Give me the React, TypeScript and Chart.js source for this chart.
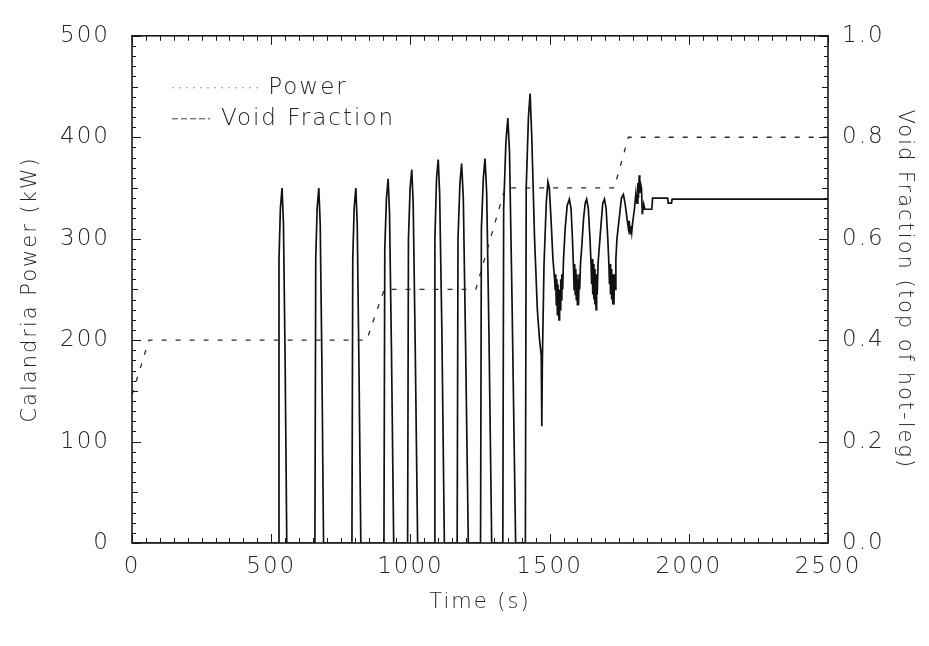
import React, { useEffect, useRef } from 'react';
import { Chart, registerables } from 'chart.js';

Chart.register(...registerables);

// ---- Data ----
const seriesNames = ['Power', 'Void Fraction'];

// Calandria power (kW) vs time (s)
const powerTime = [0, 61, 843, 906, 1235, 1340, 1732, 1783, 2500];
const powerKW = [146, 200, 200, 250, 250, 350, 350, 400, 400];

// Void fraction (top of hot-leg) vs time (s)
const voidTime = [
  0, 525, 528, 533, 539, 544, 550, 556,
  657, 660, 665, 671, 676, 682, 688,
  790, 793, 798, 804, 809, 815, 822,
  905, 908, 914, 920, 925, 932, 940,
  990, 993, 999, 1005, 1010, 1017, 1026,
  1085, 1088, 1094, 1100, 1105, 1113, 1122,
  1168, 1171, 1178, 1184, 1190, 1198, 1208,
  1252, 1255, 1262, 1268, 1274, 1282, 1292,
  1332, 1335, 1343, 1350, 1356, 1365, 1378,
  1413, 1416, 1424, 1430, 1436, 1446, 1456, 1464, 1470, 1472, 1474, 1480, 1488, 1494, 1499, 1505, 1512, 1518,
  1520, 1522, 1524, 1526, 1528, 1530, 1532, 1534, 1536, 1538, 1540, 1542, 1544, 1547, 1550,
  1556, 1563, 1571, 1577,
  1582, 1586, 1588, 1590, 1592, 1594, 1596, 1598, 1600, 1602, 1604, 1606, 1608, 1611, 1615,
  1622, 1628, 1633, 1639,
  1645, 1649, 1651, 1653, 1655, 1657, 1659, 1661, 1663, 1665, 1667, 1669, 1671, 1674, 1678,
  1685, 1691, 1697, 1703,
  1709, 1713, 1715, 1717, 1719, 1721, 1723, 1725, 1727, 1729, 1731, 1733, 1735, 1738, 1742,
  1750, 1758, 1765, 1771,
  1778, 1783, 1786, 1789, 1792, 1795, 1798,
  1805, 1810, 1814, 1817, 1819, 1822, 1824, 1826, 1830,
  1833, 1838, 1842, 1867, 1870, 1924, 1926, 1938, 1940, 2500,
];
const voidFrac = [
  0, 0, 0.56, 0.66, 0.70, 0.63, 0.36, 0,
  0, 0.56, 0.66, 0.70, 0.63, 0.36, 0,
  0, 0.56, 0.66, 0.70, 0.63, 0.36, 0,
  0, 0.58, 0.68, 0.718, 0.65, 0.38, 0,
  0, 0.60, 0.70, 0.736, 0.67, 0.40, 0,
  0, 0.60, 0.72, 0.756, 0.69, 0.42, 0,
  0, 0.60, 0.71, 0.748, 0.68, 0.40, 0,
  0, 0.62, 0.72, 0.758, 0.69, 0.42, 0,
  0, 0.66, 0.79, 0.838, 0.77, 0.48, 0,
  0, 0.70, 0.84, 0.886, 0.80, 0.60, 0.46, 0.40, 0.37, 0.23, 0.36, 0.55, 0.67, 0.712, 0.70, 0.64, 0.56, 0.52,
  0.50, 0.53, 0.47, 0.52, 0.45, 0.51, 0.46, 0.44, 0.50, 0.46, 0.52, 0.48, 0.53, 0.50, 0.56,
  0.62, 0.665, 0.678, 0.66,
  0.60, 0.54, 0.50, 0.55, 0.49, 0.54, 0.48, 0.53, 0.47, 0.52, 0.47, 0.53, 0.50, 0.55, 0.58,
  0.64, 0.67, 0.678, 0.66,
  0.60, 0.55, 0.51, 0.56, 0.49, 0.55, 0.48, 0.54, 0.47, 0.52, 0.46, 0.53, 0.49, 0.55, 0.58,
  0.63, 0.67, 0.678, 0.66,
  0.60, 0.55, 0.51, 0.55, 0.49, 0.54, 0.48, 0.53, 0.47, 0.52, 0.47, 0.53, 0.50, 0.56, 0.60,
  0.64, 0.68, 0.687, 0.67,
  0.64, 0.62, 0.635, 0.61, 0.625, 0.612, 0.63,
  0.66, 0.69, 0.67, 0.71, 0.68, 0.725, 0.69, 0.71, 0.70,
  0.648, 0.668, 0.658, 0.658, 0.68, 0.68, 0.67, 0.67, 0.678, 0.678,
];

const xTitle = 'Time (s)';
const yTitle = 'Calandria Power (kW)';
const y1Title = 'Void Fraction (top of hot-leg)';

const FONT = '"DejaVu Sans", "Liberation Sans", sans-serif';
const INK = '#262626';

const spacingPlugin = {
  id: 'spacing',
  beforeLayout(chart: any) { chart.ctx.letterSpacing = '2px'; },
  beforeDraw(chart: any) { chart.ctx.letterSpacing = '2px'; },
};

const framePlugin = {
  id: 'frameTicks',
  afterDatasetsDraw(chart: any) {
    const { ctx, chartArea: a, scales } = chart;
    const sx = scales.x, sy = scales.y, sy1 = scales.y1;
    ctx.save();
    ctx.strokeStyle = '#1a1a1a';
    ctx.lineWidth = 1;
    ctx.setLineDash([]);
    ctx.beginPath();
    for (let v = 0; v <= 2500; v += 50) {
      const px = Math.round(sx.getPixelForValue(v)) + 0.5;
      const L = v % 500 === 0 ? 9 : 5;
      ctx.moveTo(px, a.bottom); ctx.lineTo(px, a.bottom - L);
      ctx.moveTo(px, a.top); ctx.lineTo(px, a.top + L);
    }
    for (let v = 0; v <= 500; v += 10) {
      const py = Math.round(sy.getPixelForValue(v)) + 0.5;
      const L = v % 100 === 0 ? 9 : v % 50 === 0 ? 6 : 4;
      ctx.moveTo(a.left, py); ctx.lineTo(a.left + L, py);
    }
    for (let i = 0; i <= 50; i++) {
      const py = Math.round(sy1.getPixelForValue(i / 50)) + 0.5;
      const L = i % 10 === 0 ? 9 : i % 5 === 0 ? 6 : 4;
      ctx.moveTo(a.right, py); ctx.lineTo(a.right - L, py);
    }
    ctx.stroke();
    ctx.lineWidth = 1.6;
    ctx.strokeRect(a.left, a.top, a.right - a.left, a.bottom - a.top);
    ctx.restore();
  },
};

const legendPlugin = {
  id: 'inlineLegend',
  afterDatasetsDraw(chart: any) {
    const { ctx, chartArea: a } = chart;
    ctx.save();
    ctx.font = `300 23px ${FONT}`;
    ctx.letterSpacing = '2px';
    ctx.fillStyle = INK;
    ctx.textAlign = 'center';
    ctx.textBaseline = 'middle';
    const cx = a.left + 176;
    const y0 = a.top + 52;
    const y1 = a.top + 83;
    ctx.fillText(seriesNames[0], cx, y0);
    ctx.fillText(seriesNames[1], cx, y1);
    ctx.lineWidth = 1;
    ctx.strokeStyle = '#9a9a9a';
    ctx.setLineDash([2, 5]);
    ctx.beginPath();
    ctx.moveTo(a.left + 40, y0); ctx.lineTo(a.left + 126, y0);
    ctx.stroke();
    ctx.strokeStyle = '#444';
    ctx.setLineDash([6, 3]);
    ctx.beginPath();
    ctx.moveTo(a.left + 40, y1); ctx.lineTo(a.left + 78, y1);
    ctx.stroke();
    ctx.restore();
  },
};

export default function App() {
  const ref = useRef<HTMLCanvasElement | null>(null);

  useEffect(() => {
    if (!ref.current) return;
    const tickFont = { family: FONT, size: 23, weight: '300' as any };
    const titleFont = { family: FONT, size: 21, weight: '300' as any };
    const chart = new Chart(ref.current, {
      type: 'line',
      data: {
        datasets: [
          {
            label: seriesNames[0],
            data: powerTime.map((t, i) => ({ x: t, y: powerKW[i] })),
            yAxisID: 'y',
            borderColor: '#2b2b2b',
            borderWidth: 1.3,
            borderDash: [5, 9],
            pointRadius: 0,
            tension: 0,
          },
          {
            label: seriesNames[1],
            data: voidTime.map((t, i) => ({ x: t, y: voidFrac[i] })),
            yAxisID: 'y1',
            borderColor: '#111',
            borderWidth: 1.7,
            pointRadius: 0,
            tension: 0,
          },
        ],
      },
      options: {
        responsive: false,
        animation: false,
        layout: { padding: { top: 20, left: 0, right: 0, bottom: 0 } },
        plugins: { legend: { display: false }, tooltip: { enabled: false } },
        scales: {
          x: {
            type: 'linear',
            min: 0,
            max: 2500,
            ticks: { stepSize: 500, font: tickFont, color: INK, padding: 10, maxRotation: 0, callback: (v: any) => String(v) },
            grid: { display: false, drawTicks: false },
            border: { display: false },
            title: { display: true, text: xTitle, font: titleFont, color: INK, padding: { top: 0, bottom: 31 } },
            afterFit: (s: any) => { s.height = 103; },
          },
          y: {
            type: 'linear',
            position: 'left',
            min: 0,
            max: 500,
            ticks: { stepSize: 100, font: tickFont, color: INK, padding: 22, callback: (v: any) => String(v) },
            grid: { display: false, drawTicks: false },
            border: { display: false },
            title: { display: true, text: yTitle, font: titleFont, color: INK, padding: { top: 18, bottom: 0 } },
            afterFit: (s: any) => { s.width = 132; },
          },
          y1: {
            type: 'linear',
            position: 'right',
            min: 0,
            max: 1,
            ticks: { stepSize: 0.2, font: tickFont, color: INK, padding: 14, callback: (v: any) => Number(v).toFixed(1) },
            grid: { display: false, drawTicks: false },
            border: { display: false },
            title: { display: true, text: y1Title, font: titleFont, color: INK, padding: { top: 12, bottom: 0 } },
            afterFit: (s: any) => { s.width = 101; },
          },
        },
      },
      plugins: [spacingPlugin, framePlugin, legendPlugin],
    });
    return () => chart.destroy();
  }, []);

  return (
    <div style={{ position: 'fixed', left: 0, top: 0, width: 929, height: 646, background: '#fff' }}>
      <canvas ref={ref} width={929} height={646} />
    </div>
  );
}
